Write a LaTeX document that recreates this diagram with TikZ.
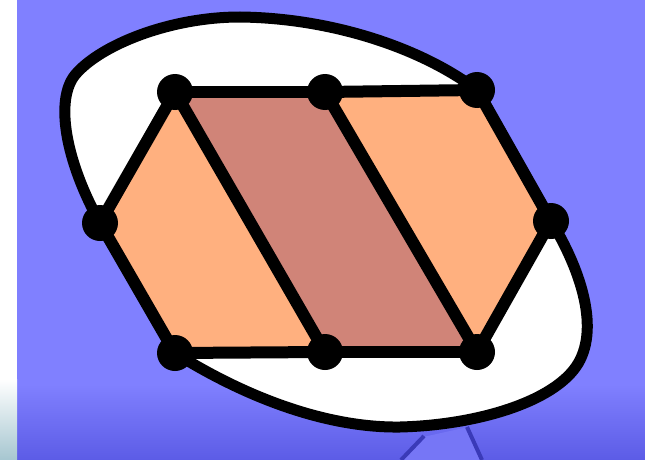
\documentclass[tikz,border=0pt]{standalone}
\usetikzlibrary{calc}
\definecolor{bgblue}{HTML}{8080FF}
\definecolor{bgdeep}{HTML}{5C5CE6}
\definecolor{peach}{HTML}{FFB07F}
\definecolor{rose}{HTML}{D08478}
\definecolor{wedge}{HTML}{3A3AB8}
\definecolor{wedgefill}{HTML}{7676F6}
\definecolor{stripbot}{HTML}{A6C6D0}
\tikzset{
  dot/.style={circle,fill=black,inner sep=0pt,minimum size=36pt},
  edge/.style={line width=12pt,line cap=round,line join=round},
  blob/.style={line width=11pt,fill=white,line join=round},
}
\begin{document}
\begin{tikzpicture}[x=1pt,y=-1pt]
\useasboundingbox (0,0) rectangle (645,460);
% background
\fill[bgblue] (17,0) rectangle (645,385);
\shade[top color=bgblue,bottom color=bgdeep] (17,384) rectangle (645,460);
\fill[white] (0,0) rectangle (17,380);
\shade[top color=white,bottom color=stripbot] (0,379) rectangle (17,460);
% wedge at bottom
\fill[wedgefill] (423,437) -- (468,427) -- (483,460) -- (400,460) -- cycle;
\draw[wedge,line width=4pt] (424,436) -- (401,460);
\draw[wedge,line width=4pt] (467,427) -- (482,460);
% vertices
\coordinate (a) at (175,92);
\coordinate (b) at (325,92);
\coordinate (c) at (477,90);
\coordinate (d) at (551,221);
\coordinate (e) at (477,352);
\coordinate (f) at (325,352);
\coordinate (g) at (175,353);
\coordinate (h) at (100,223);
% blob
\draw[blob] (c) .. controls (420,47) and (330,18) .. (240,17)
  .. controls (170,17) and (100,45) .. (75,75)
  .. controls (55,100) and (65,160) .. (h)
  -- (g)
  .. controls (250,400) and (330,428) .. (400,427)
  .. controls (480,425) and (560,400) .. (580,360)
  .. controls (600,320) and (575,260) .. (d)
  -- cycle;
% fills
\fill[peach] (h) -- (a) -- (f) -- (g) -- cycle;
\fill[rose] (a) -- (b) -- (e) -- (f) -- cycle;
\fill[peach] (b) -- (c) -- (d) -- (e) -- cycle;
% edges
\draw[edge] (a) -- (b);
\draw[edge] (b) -- (c);
\draw[edge] (c) -- (d);
\draw[edge] (d) -- (e);
\draw[edge] (e) -- (f);
\draw[edge] (f) -- (g);
\draw[edge] (g) -- (h);
\draw[edge] (h) -- (a);
\draw[edge] (a) -- (f);
\draw[edge] (b) -- (e);
% dots
\foreach \v in {a,b,c,d,e,f,g,h} \node[dot] (n\v) at (\v) {};
\end{tikzpicture}
\end{document}
